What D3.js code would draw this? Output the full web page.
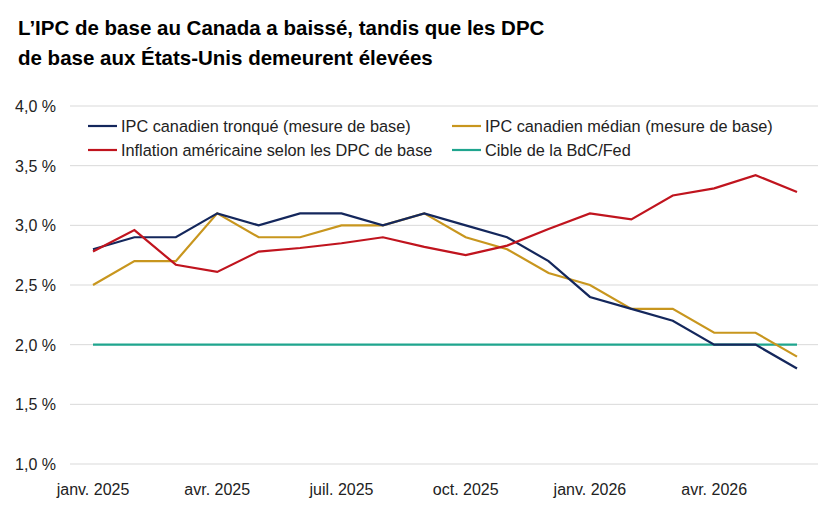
<!DOCTYPE html>
<html>
<head>
<meta charset="utf-8">
<script src="https://cdn.jsdelivr.net/npm/d3@7"></script>
<style>
body { margin: 0; background: #fff; font-family: "Liberation Sans", Arial, sans-serif; }
</style>
</head>
<body>
<svg id="chart" width="825" height="508"></svg>
<script>
// monthly values, janv. 2025 .. juin 2026
var months = d3.range(18).map(function (i) { return new Date(2025, i, 1); });
var trimmed = [2.8, 2.9, 2.9, 3.1, 3.0, 3.1, 3.1, 3.0, 3.1, 3.0, 2.9, 2.7, 2.4, 2.3, 2.2, 2.0, 2.0, 1.8];
var median = [2.5, 2.7, 2.7, 3.1, 2.9, 2.9, 3.0, 3.0, 3.1, 2.9, 2.8, 2.6, 2.5, 2.3, 2.3, 2.1, 2.1, 1.9];
var usCore = [2.78, 2.96, 2.67, 2.61, 2.78, 2.81, 2.85, 2.90, 2.82, 2.75, 2.83, 2.97, 3.10, 3.05, 3.25, 3.31, 3.42, 3.28];
var target = months.map(function () { return 2.0; });
var yTicks = [1.0, 1.5, 2.0, 2.5, 3.0, 3.5, 4.0];
var xTickIdx = [0, 3, 6, 9, 12, 15];
var xTickLabels = ["janv. 2025", "avr. 2025", "juil. 2025", "oct. 2025", "janv. 2026", "avr. 2026"];

var series = [
	{ name: "IPC canadien tronqué (mesure de base)", values: trimmed, color: "#14275c" },
	{ name: "IPC canadien médian (mesure de base)", values: median, color: "#c8961e" },
	{ name: "Inflation américaine selon les DPC de base", values: usCore, color: "#c0141e" },
	{ name: "Cible de la BdC/Fed", values: target, color: "#1fa58e" }
];

var svg = d3.select("#chart");
var fmt = function (v) { return v.toFixed(1).replace(".", ",") + " %"; };

svg.append("text").attr("x", 18).attr("y", 35).attr("font-size", 20.5).attr("font-weight", "bold")
	.text("L’IPC de base au Canada a baissé, tandis que les DPC");
svg.append("text").attr("x", 18).attr("y", 65).attr("font-size", 20.5).attr("font-weight", "bold")
	.text("de base aux États-Unis demeurent élevées");

var x = d3.scaleLinear().domain([0, 17]).range([93, 797]);
var y = d3.scaleLinear().domain([1, 4]).range([464, 106]);

var grid = svg.append("g");
yTicks.forEach(function (t) {
	grid.append("line").attr("x1", 70).attr("x2", 818).attr("y1", y(t)).attr("y2", y(t))
		.attr("stroke", "#d9d9d9").attr("stroke-width", 1);
	grid.append("text").attr("x", 56).attr("y", y(t) + 6).attr("text-anchor", "end")
		.attr("font-size", 16).attr("fill", "#222").text(fmt(t));
});
xTickIdx.forEach(function (i, k) {
	svg.append("text").attr("x", x(i)).attr("y", 495).attr("text-anchor", "middle")
		.attr("font-size", 16).attr("font-weight", "500").attr("fill", "#222").text(xTickLabels[k]);
});

var line = d3.line().x(function (d, i) { return x(i); }).y(function (d) { return y(d); });
[3, 1, 0, 2].forEach(function (k) {
	svg.append("path").datum(series[k].values).attr("d", line).attr("fill", "none")
		.attr("stroke", series[k].color).attr("stroke-width", 2.2);
});

// legend, two columns
var legPos = [[88, 126], [452, 126], [88, 150], [452, 150]];
series.forEach(function (s, i) {
	var g = svg.append("g").attr("transform", "translate(" + legPos[i][0] + "," + legPos[i][1] + ")");
	g.append("rect").attr("x", 0).attr("y", -5).attr("width", 30).attr("height", 10).attr("fill", "#fff");
	g.append("line").attr("x1", 0).attr("x2", 29).attr("stroke", s.color).attr("stroke-width", 2.2);
	g.append("text").attr("x", 33).attr("y", 6).attr("font-size", 16.3).attr("fill", "#222").text(s.name);
});
</script>
</body>
</html>
